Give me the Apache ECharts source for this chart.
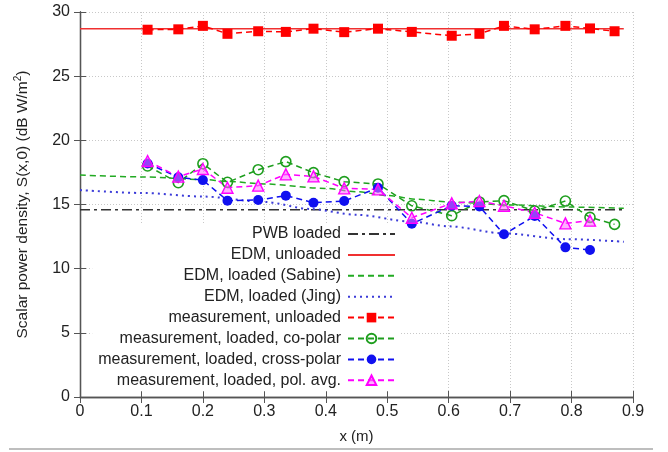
<!DOCTYPE html>
<html>
<head>
<meta charset="utf-8">
<script src="https://cdn.jsdelivr.net/npm/echarts@6/dist/echarts.min.js"></script>
<style>html,body{margin:0;padding:0;background:#fff}#c{width:668px;height:452px}</style>
</head>
<body>
<div id="c"></div>
<script>
// measurement positions (m)
var measX = [0.11, 0.16, 0.20, 0.24, 0.29, 0.335, 0.38, 0.43, 0.485, 0.54, 0.605, 0.65, 0.69, 0.74, 0.79, 0.83, 0.87];
var measUnloaded = [28.62, 28.65, 28.92, 28.3, 28.5, 28.45, 28.7, 28.43, 28.7, 28.45, 28.15, 28.3, 28.92, 28.65, 28.92, 28.72, 28.5];
var measCoPolar = [18.0, 16.7, 18.18, 16.73, 17.71, 18.34, 17.48, 16.78, 16.6, 14.9, 14.13, 15.2, 15.3, 14.5, 15.27, 14.0, 13.45];
var measCrossPolar = [18.2, 17.12, 16.9, 15.3, 15.35, 15.69, 15.14, 15.27, 16.3, 13.5, 14.9, 14.85, 12.68, 14.1, 11.66, 11.45];
var measPolAvg = [18.39, 17.17, 17.77, 16.31, 16.47, 17.35, 17.19, 16.26, 16.18, 13.97, 15.09, 15.27, 14.9, 14.36, 13.53, 13.74];

// model curves
var modelX = [0, 0.885];
var pwbLoaded = [14.6, 14.6];
var edmUnloaded = [28.7, 28.7];
var sabineX = [0, 0.1, 0.2, 0.24, 0.3, 0.4, 0.45, 0.5, 0.55, 0.6, 0.7, 0.8, 0.885];
var sabineY = [17.3, 17.15, 16.95, 16.8, 16.6, 16.25, 16.0, 15.7, 15.4, 15.2, 14.97, 14.8, 14.7];
var jingX = [0, 0.1, 0.2, 0.3, 0.375, 0.45, 0.54, 0.6, 0.69, 0.79, 0.885];
var jingY = [16.13, 15.9, 15.62, 15.2, 14.65, 14.2, 13.66, 13.3, 12.75, 12.3, 12.1];

var names = ['PWB loaded', 'EDM, unloaded', 'EDM, loaded (Sabine)', 'EDM, loaded (Jing)',
  'measurement, unloaded', 'measurement, loaded, co-polar', 'measurement, loaded, cross-polar',
  'measurement, loaded, pol. avg.'];

function pairs(xs, ys) { return ys.map(function (y, i) { return [xs[i], y]; }); }

var chart = echarts.init(document.getElementById('c'), null, {renderer: 'canvas'});
var font = '"Liberation Sans", Arial, sans-serif';
var gridLine = {show: true, lineStyle: {color: '#c8c8c8', type: [1, 2], width: 1}};

var legendData = names.map(function (n, i) {
  return i < 4 ? {name: n, itemStyle: {opacity: 0}} : {name: n};
});

chart.setOption({
  backgroundColor: '#fff',
  animation: false,
  textStyle: {fontFamily: font},
  grid: {left: 80, right: 35, top: 12, bottom: 55, show: false},
  graphic: [{type: 'line', shape: {x1: 9, y1: 449, x2: 653, y2: 449}, style: {stroke: '#a8a8a8', lineWidth: 1.5}}],
  legend: {
    data: legendData,
    orient: 'vertical',
    align: 'right',
    right: 267,
    top: 223,
    padding: [3, 5, 3, 6],
    backgroundColor: '#fff',
    itemWidth: 47,
    itemHeight: 12,
    itemGap: 4.9,
    textStyle: {fontSize: 16, color: '#222', fontFamily: font, padding: [0, 2, 0, 0]}
  },
  xAxis: [{
    type: 'value', min: 0, max: 0.9, interval: 0.1, position: 'bottom',
    name: 'x (m)', nameLocation: 'middle', nameGap: 32,
    nameTextStyle: {fontSize: 15, color: '#222'},
    axisLine: {show: true, lineStyle: {color: '#555', width: 1.3}},
    axisTick: {show: true, inside: true, length: 6, lineStyle: {color: '#555'}},
    axisLabel: {fontSize: 16, color: '#222', margin: 7, formatter: function (v) { return +v.toFixed(1) + ''; }},
    splitLine: gridLine
  }, {
    type: 'value', min: 0, max: 0.9, interval: 0.1, position: 'top',
    axisLine: {show: true, lineStyle: {color: '#555', width: 1.3}},
    axisTick: {show: true, inside: true, length: 6, lineStyle: {color: '#555'}},
    axisLabel: {show: false}, splitLine: {show: false}
  }],
  yAxis: [{
    type: 'value', min: 0, max: 30, interval: 5, position: 'left',
    name: 'Scalar power density, S(x,0) (dB W/m{sup|2})', nameLocation: 'middle', nameGap: 48,
    nameTextStyle: {fontSize: 15.5, color: '#222', rich: {sup: {fontSize: 10, padding: [0, 0, 9, 0], color: '#222'}}},
    axisLine: {show: true, lineStyle: {color: '#555', width: 1.3}},
    axisTick: {show: true, inside: true, length: 6, lineStyle: {color: '#555'}},
    axisLabel: {fontSize: 16, color: '#222', margin: 10},
    splitLine: gridLine
  }, {
    type: 'value', min: 0, max: 30, interval: 5, position: 'right',
    axisLine: {show: true, lineStyle: {color: '#555', width: 1.3}},
    axisTick: {show: true, inside: true, length: 6, lineStyle: {color: '#555'}},
    axisLabel: {show: false}, splitLine: {show: false}
  }],
  series: [
    {name: names[0], type: 'line', data: pairs(modelX, pwbLoaded), symbol: 'none',
     lineStyle: {color: '#333', width: 1.5, type: [10, 4, 3, 4]}, itemStyle: {color: '#333'}},
    {name: names[1], type: 'line', data: pairs(modelX, edmUnloaded), symbol: 'none',
     lineStyle: {color: '#f03030', width: 1.5, type: 'solid'}, itemStyle: {color: '#f03030'}},
    {name: names[2], type: 'line', data: pairs(sabineX, sabineY), symbol: 'none', smooth: 0.3, smoothMonotone: 'x',
     lineStyle: {color: '#22aa22', width: 1.5, type: [6, 4]}, itemStyle: {color: '#22aa22'}},
    {name: names[3], type: 'line', data: pairs(jingX, jingY), symbol: 'none', smooth: 0.3, smoothMonotone: 'x',
     lineStyle: {color: '#3b3bd8', width: 2, type: [2, 4]}, itemStyle: {color: '#3b3bd8'}},
    {name: names[4], type: 'line', data: pairs(measX, measUnloaded), symbol: 'rect', symbolSize: 10,
     lineStyle: {color: '#ff0000', width: 1.5, type: [6, 4]}, itemStyle: {color: '#ff0000'}},
    {name: names[5], type: 'line', data: pairs(measX, measCoPolar), symbol: 'circle', symbolSize: 10,
     lineStyle: {color: '#1e9e1e', width: 1.5, type: [6, 4]},
     itemStyle: {color: 'rgba(255,255,255,0)', borderColor: '#1e9e1e', borderWidth: 1.6}},
    {name: names[6], type: 'line', data: pairs(measX, measCrossPolar), symbol: 'circle', symbolSize: 10,
     lineStyle: {color: '#1010f0', width: 1.5, type: [6, 4]}, itemStyle: {color: '#1010f0'}},
    {name: names[7], type: 'line', data: pairs(measX, measPolAvg), symbol: 'triangle', symbolSize: 11,
     lineStyle: {color: '#ff00ff', width: 1.5, type: [6, 4]},
     itemStyle: {color: 'rgba(255,110,255,0.55)', borderColor: '#ff00ff', borderWidth: 1.4}}
  ]
});
</script>
</body>
</html>
